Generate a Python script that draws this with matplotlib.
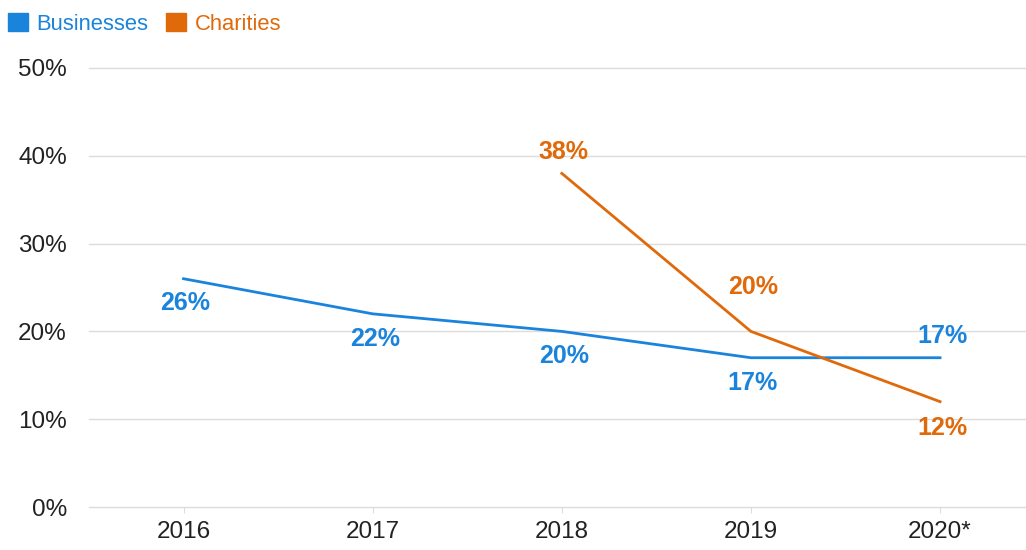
import matplotlib.pyplot as plt
from matplotlib.patches import Patch

plt.rcParams['font.family'] = ['Liberation Sans', 'DejaVu Sans']

years = ["2016", "2017", "2018", "2019", "2020*"]
businesses = [26, 22, 20, 17, 17]
charities = [None, None, 38, 20, 12]
# label offsets in pixels (up +, down -)
bus_offsets = [-24, -25, -25, -25, 22]
cha_offsets = [None, None, 21, 44, -26]

blue = "#1a84dc"
orange = "#e0690a"

fig = plt.figure(figsize=(10.26, 5.5), dpi=100)
ax = fig.add_axes([89 / 1026, 43 / 550, (1026 - 89) / 1026, (507 - 68) / 550])

x = list(range(len(years)))
ax.plot(x, businesses, color=blue, lw=2.0, solid_joinstyle='miter')
cx = [i for i, v in zip(x, charities) if v is not None]
cy = [v for v in charities if v is not None]
ax.plot(cx, cy, color=orange, lw=2.0, solid_joinstyle='miter')

px = 0.72
for i, v in enumerate(businesses):
    ax.annotate(f"{v}%", (i, v), xytext=(2 * px, bus_offsets[i] * px),
                textcoords='offset points', ha='center', va='center',
                fontsize=18, fontweight='bold', color=blue)
for i, v in enumerate(charities):
    if v is None:
        continue
    ax.annotate(f"{v}%", (i, v), xytext=(2 * px, cha_offsets[i] * px),
                textcoords='offset points', ha='center', va='center',
                fontsize=18, fontweight='bold', color=orange)

ax.set_ylim(0, 50)
ax.set_xlim(-0.5, (1026 - 183) / 189.25)
ax.set_yticks(range(0, 51, 10))
ax.set_yticklabels([f"{t}%" for t in range(0, 51, 10)])
ax.set_xticks(x)
ax.set_xticklabels(years)
ax.grid(axis='y', color='#dcdcdc', lw=1)
for gl in ax.get_ygridlines():
    gl.set_clip_on(False)
ax.set_axisbelow(True)
for s in ax.spines.values():
    s.set_visible(False)
ax.tick_params(axis='y', length=0, pad=16, labelsize=17.5, labelcolor='#222222')
ax.tick_params(axis='x', length=4, color='#dcdcdc', pad=6, labelsize=17.5,
               labelcolor='#222222')

handles = [Patch(color=blue, label="Businesses"), Patch(color=orange, label="Charities")]
leg = fig.legend(handles=handles, loc='upper left', bbox_to_anchor=(-0.005, 1.0),
                 ncol=2, frameon=False, fontsize=15.8, handlelength=0.9,
                 handleheight=0.9, handletextpad=0.4, columnspacing=0.8,
                 borderaxespad=0.0, borderpad=0.6)
for t, c in zip(leg.get_texts(), [blue, orange]):
    t.set_color(c)

fig.savefig("out.png", dpi=100)
